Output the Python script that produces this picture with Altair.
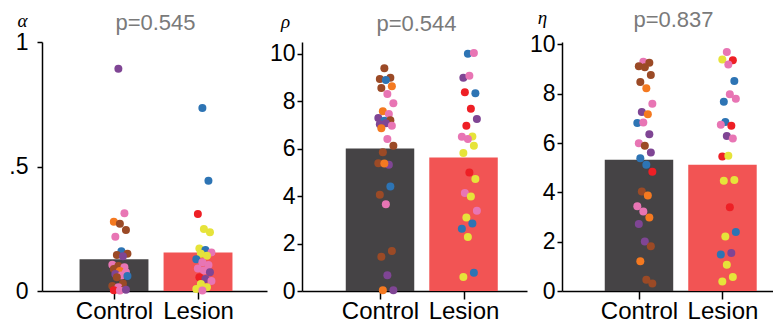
import altair as alt
import pandas as pd

groups = ["Control", "Lesion"]

color_names = ["blue", "purple", "orange", "brown", "pink", "red", "yellow"]
color_hex = ["#2d74b4", "#7f4594", "#f47920", "#9b4a26", "#e875b4", "#ee1f25", "#e6e33a"]

# ---- alpha ----
alpha_means = [0.128, 0.155]
alpha_ctrl_vals = [0.893, 0.312, 0.278, 0.270, 0.245, 0.218, 0.160, 0.150, 0.145, 0.140,
                   0.105, 0.100, 0.095, 0.088, 0.080, 0.075, 0.068, 0.062, 0.060, 0.055,
                   0.030, 0.020, 0.015, 0.008, 0.003, 0.002, 0.005]
alpha_ctrl_cols = ["purple", "pink", "orange", "brown", "brown", "pink", "blue", "brown", "brown", "purple",
                   "pink", "brown", "pink", "brown", "orange", "pink", "purple", "pink", "blue", "brown",
                   "brown", "brown", "pink", "brown", "red", "pink", "purple"]
alpha_les_vals = [0.735, 0.443, 0.309, 0.249, 0.236, 0.171, 0.165, 0.155, 0.150, 0.142,
                  0.128, 0.115, 0.104, 0.090, 0.082, 0.075, 0.055, 0.048, 0.040, 0.028,
                  0.015, 0.008, 0.002]
alpha_les_cols = ["blue", "blue", "red", "yellow", "yellow", "yellow", "blue", "pink", "yellow", "yellow",
                  "blue", "pink", "pink", "pink", "pink", "purple", "red", "purple", "pink", "yellow",
                  "yellow", "yellow", "pink"]

# ---- rho ----
rho_means = [6.01, 5.63]
rho_ctrl_vals = [9.39, 8.99, 8.94, 8.90, 8.63, 8.56, 8.31, 7.92, 7.58, 7.46,
                 7.30, 7.18, 7.20, 7.03, 7.07, 6.97, 6.86, 6.41, 6.13, 5.85,
                 5.32, 5.39, 5.38, 4.41, 4.06, 3.66, 1.69, 1.44, 0.66, 0.03, 0.03]
rho_ctrl_cols = ["brown", "brown", "brown", "blue", "orange", "brown", "pink", "pink", "orange", "pink",
                 "purple", "blue", "brown", "purple", "purple", "pink", "orange", "pink", "brown", "brown",
                 "purple", "brown", "orange", "blue", "brown", "pink", "brown", "brown", "purple", "purple", "orange"]
rho_les_vals = [10.00, 10.04, 8.99, 9.08, 8.34, 8.38, 7.68, 7.25, 6.97, 6.52,
                6.50, 6.41, 6.13, 5.82, 5.00, 4.72, 4.13, 3.99, 3.38, 3.10,
                2.85, 2.63, 2.28, 0.77, 0.59]
rho_les_cols = ["blue", "pink", "purple", "pink", "blue", "red", "red", "purple", "red", "yellow",
                "pink", "pink", "yellow", "yellow", "red", "yellow", "pink", "yellow", "pink", "yellow",
                "blue", "blue", "yellow", "blue", "yellow"]

# ---- eta ----
eta_means = [5.32, 5.12]
eta_ctrl_vals = [9.30, 9.26, 9.12, 9.08, 8.76, 8.48, 8.22, 7.60, 7.26, 7.17,
                 6.81, 6.83, 6.36, 5.99, 5.89, 5.62, 5.38, 5.12, 4.84, 4.04,
                 3.87, 3.44, 3.22, 2.98, 2.72, 2.01, 1.82, 1.21, 0.46, 0.30]
eta_ctrl_cols = ["pink", "brown", "brown", "brown", "brown", "brown", "orange", "pink", "purple", "orange",
                 "blue", "pink", "purple", "pink", "brown", "purple", "blue", "blue", "red", "brown",
                 "orange", "pink", "pink", "orange", "purple", "purple", "brown", "orange", "brown", "brown"]
eta_les_vals = [9.69, 9.36, 9.39, 9.19, 8.52, 7.68, 7.98, 7.80, 6.86, 6.70,
                6.74, 6.29, 6.19, 5.46, 5.49, 4.50, 4.47, 3.40, 2.39, 2.21,
                1.54, 1.48, 1.06, 0.57, 0.39]
eta_les_cols = ["pink", "red", "yellow", "pink", "blue", "blue", "pink", "pink", "blue", "red",
                "pink", "purple", "pink", "red", "yellow", "yellow", "yellow", "red", "blue", "yellow",
                "purple", "blue", "yellow", "yellow", "yellow"]


def make_points(cv, cc, lv, lc):
    rows = []
    for v, c in zip(cv, cc):
        rows.append({"group": "Control", "value": v, "col": c})
    for v, c in zip(lv, lc):
        rows.append({"group": "Lesion", "value": v, "col": c})
    return pd.DataFrame(rows)


AX = dict(domainColor="black", domainWidth=1.5, tickColor="black", tickWidth=1.5,
          labelFont="Liberation Sans", labelColor="black", grid=False)


def panel(means, cv, cc, lv, lc, ydom, yvals, ylabel_expr, title, greek,
          gx, gy, xdom, width, lab_pad, title_dx):
    bars = pd.DataFrame({"group": groups, "mean": means})
    pts = make_points(cv, cc, lv, lc)
    idx_expr = "datum.group == 'Control' ? 0 : 1"
    xscale = alt.Scale(domain=xdom, nice=False, zero=False)
    yscale = alt.Scale(domain=ydom, nice=False, zero=False)
    xaxis = alt.Axis(values=[0, 1], labelExpr="datum.value == 0 ? 'Control' : 'Lesion'",
                     title=None, tickSize=8, labelPadding=0, labelFontSize=24, **AX)
    yaxis = alt.Axis(values=yvals, labelExpr=ylabel_expr, tickSize=5, labelPadding=lab_pad,
                     labelFontSize=23, title=greek, titleAngle=0, titleX=gx, titleY=gy,
                     titleAlign="center", titleBaseline="middle", titleFont="Liberation Serif",
                     titleFontStyle="italic", titleFontWeight="normal", titleFontSize=19,
                     titleColor="black", **AX)

    bar = alt.Chart(bars).transform_calculate(
        idx=idx_expr
    ).transform_calculate(
        lo="datum.idx - 0.41", hi="datum.idx + 0.41"
    ).mark_bar().encode(
        x=alt.X("lo:Q", scale=xscale, axis=xaxis),
        x2="hi:Q",
        y=alt.Y("mean:Q", scale=yscale, axis=yaxis),
        y2=alt.datum(0),
        color=alt.Color("group:N", scale=alt.Scale(domain=groups, range=["#454345", "#f25454"]),
                        legend=None),
    )

    dots = alt.Chart(pts).transform_window(
        k="row_number()", groupby=["group"]
    ).transform_calculate(
        idx=idx_expr
    ).transform_calculate(
        xj="datum.idx + 0.07 + ((datum.k * 37) % 11 - 5) * 0.018"
    ).mark_circle(size=64, opacity=1).encode(
        x=alt.X("xj:Q", scale=xscale, axis=xaxis),
        y=alt.Y("value:Q", scale=yscale, axis=yaxis),
        fill=alt.Fill("col:N", scale=alt.Scale(domain=color_names, range=color_hex), legend=None),
    )

    return alt.layer(bar, dots).resolve_scale(color="independent").properties(
        width=width, height=249,
        title=alt.TitleParams(title, fontSize=22, color="#7a7a7a", font="Liberation Sans",
                              fontWeight="normal", anchor="middle", offset=-24, dx=title_dx),
    )


p1 = panel(alpha_means, alpha_ctrl_vals, alpha_ctrl_cols, alpha_les_vals, alpha_les_cols,
           [0, 1], [0, 0.5, 1],
           "datum.value == 0 ? '0' : (datum.value == 1 ? '1' : '.5')",
           "p=0.545", "α", -20, -22, [-0.857, 1.821], 225, 9, 1)
p2 = panel(rho_means, rho_ctrl_vals, rho_ctrl_cols, rho_les_vals, rho_les_cols,
           [0, 10.5], [0, 2, 4, 6, 8, 10], "datum.label",
           "p=0.544", "ρ", -17, -21, [-0.934, 1.76], 225, 2, 2)
p3 = panel(eta_means, eta_ctrl_vals, eta_ctrl_cols, eta_les_vals, eta_les_cols,
           [0, 10.1], [0, 2, 4, 6, 8, 10], "datum.label",
           "p=0.837", "η", -20, -25, [-0.922, 1.605], 211, 2, 6)

chart = alt.hconcat(p1, p2, p3, spacing=35, bounds="flush").properties(
    padding=0
).configure_view(stroke=None)

chart.save("out.html", embed_options={"renderer": "svg", "actions": False})
